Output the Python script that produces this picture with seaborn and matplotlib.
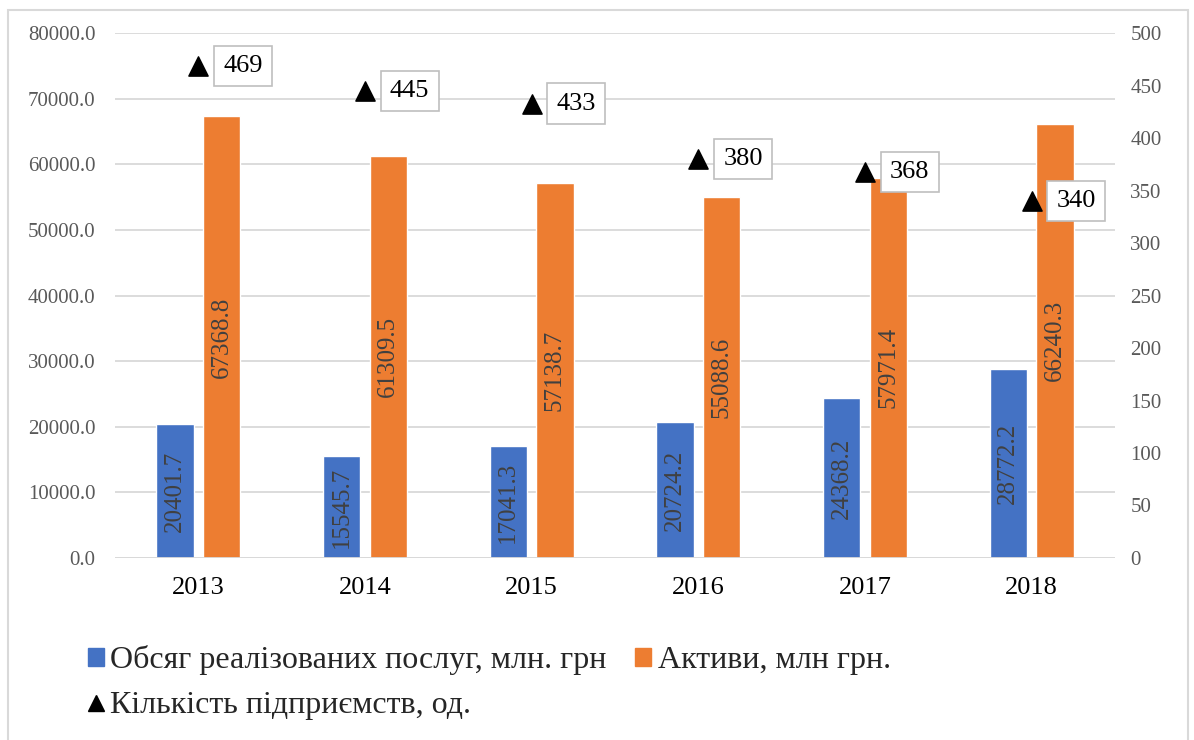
import matplotlib
matplotlib.use("Agg")
import matplotlib.pyplot as plt
import seaborn as sns
import pandas as pd
from matplotlib.patches import Rectangle
from matplotlib.lines import Line2D
from matplotlib.font_manager import FontProperties
from matplotlib.ticker import FuncFormatter, MultipleLocator

# Дані
years = ["2013", "2014", "2015", "2016", "2017", "2018"]
services = [20401.7, 15545.7, 17041.3, 20724.2, 24368.2, 28772.2]
assets = [67368.8, 61309.5, 57138.7, 55088.6, 57971.4, 66240.3]
enterprises = [469, 445, 433, 380, 368, 340]

label_services = "Обсяг реалізованих послуг, млн. грн"
label_assets = "Активи, млн грн."
label_enterprises = "Кількість підприємств, од."

blue = "#4472C4"
orange = "#ED7D31"

sns.set_theme(style="white")
plt.rcParams['font.family'] = ['Liberation Serif', 'DejaVu Serif']

df = pd.DataFrame({
    "year": years * 2,
    "value": services + assets,
    "series": [label_services] * len(years) + [label_assets] * len(years),
})
df_cnt = pd.DataFrame({"year": years, "count": enterprises})

fig = plt.figure(figsize=(11.94, 7.4), dpi=100)
ax = fig.add_axes([0.0963, 0.246, 0.8375, 0.709])

sns.barplot(data=df, x="year", y="value", hue="series",
            palette=[blue, orange], saturation=1, width=0.56, gap=0.2,
            ax=ax, legend=False, errorbar=None)

ax.set_xlim(-0.5, len(years) - 0.5)
ax.set_ylim(0, 80000)
ax.yaxis.set_major_locator(MultipleLocator(10000))
ax.yaxis.set_major_formatter(FuncFormatter(lambda v, p: f"{v:.1f}"))
ax.grid(axis="y", color="#D9D9D9", linewidth=1.3)
ax.set_axisbelow(True)
for s in ax.spines.values():
    s.set_visible(False)
ax.axhline(0, color="#D9D9D9", linewidth=1.3, zorder=1)
ax.set_xlabel("")
ax.set_ylabel("")
ax.tick_params(axis="y", length=0, pad=14, labelsize=15, labelcolor="#595959")
ax.tick_params(axis="x", length=0, pad=14, labelsize=19, labelcolor="black")

# підписи всередині стовпців
for cont in ax.containers:
    for rect in cont:
        h = rect.get_height()
        ax.text(rect.get_x() + rect.get_width() / 2, h / 2, f"{h:.1f}",
                rotation=90, ha="center", va="center",
                fontsize=18, color="#404040")

# Права вісь - кількість підприємств
ax2 = ax.twinx()
sns.scatterplot(data=df_cnt, x="year", y="count", marker="^", s=190,
                color="black", edgecolor="black", ax=ax2, legend=False, zorder=5)
ax2.set_ylim(0, 500)
ax2.set_xlim(-0.5, len(years) - 0.5)
ax2.yaxis.set_major_locator(MultipleLocator(50))
ax2.set_ylabel("")
for s in ax2.spines.values():
    s.set_visible(False)
ax2.tick_params(axis="y", length=0, pad=11, labelsize=15, labelcolor="#595959")
ax2.grid(False)

for i, n in enumerate(enterprises):
    ax2.annotate(str(n), xy=(i, n), xytext=(18, 0), textcoords="offset points",
                 ha="left", va="center", fontsize=19, color="black",
                 bbox=dict(boxstyle="square,pad=0.35", fc="white", ec="#BFBFBF", lw=1.2),
                 zorder=6)

# Легенда
handles = [
    Rectangle((0, 0), 1, 1, color=blue),
    Line2D([], [], marker="^", color="black", linestyle="None", markersize=11),
    Rectangle((0, 0), 1, 1, color=orange),
]
labels = [label_services, label_enterprises, label_assets]
leg_font = FontProperties(family=["Liberation Serif", "DejaVu Serif"], size=23)
fig.legend(handles, labels, loc="upper left", bbox_to_anchor=(0.0737, 0.128),
           ncol=2, frameon=False, prop=leg_font, handlelength=0.5, handleheight=0.5,
           handletextpad=0.2, columnspacing=0.9, labelspacing=0.5,
           borderpad=0, borderaxespad=0)

# рамка навколо діаграми
fig.patches.append(Rectangle((0.007, -0.01), 0.988, 0.997, transform=fig.transFigure,
                             fill=False, ec="#D9D9D9", lw=1.5))

fig.savefig("out.png", dpi=100, facecolor="white")
